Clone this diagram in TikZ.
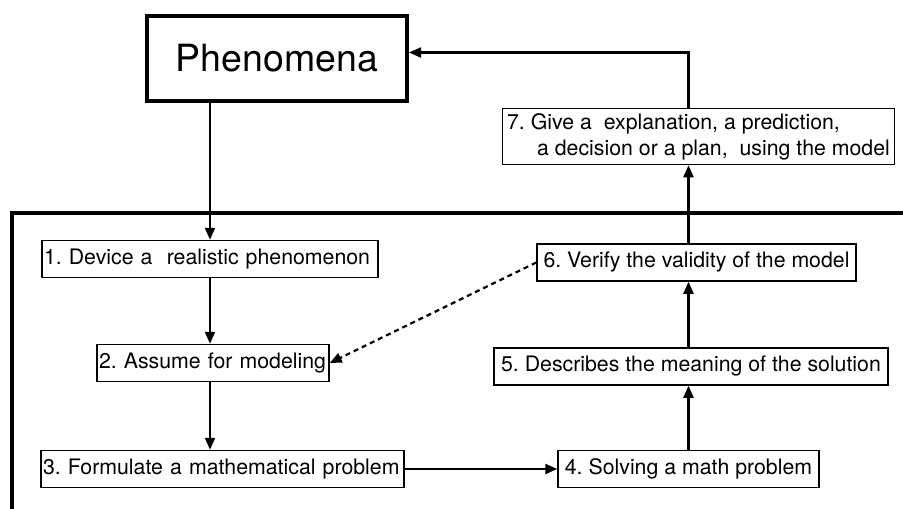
\documentclass[tikz,border=0pt]{standalone}
\usepackage{fontspec}
\setmainfont{TeX Gyre Heros}
\usepackage{tikz}
\usetikzlibrary{arrows.meta,calc}
\frenchspacing

\tikzset{
  stepbox/.style={draw, rectangle, line width=1.5pt, minimum height=37pt, inner sep=2pt, font=\fontsize{21.3}{26}\selectfont},
  leftbox/.style={stepbox, align=left, text width=#1},
  flow/.style={-{Triangle[length=12pt,width=10pt]}, line width=2.2pt},
}

\begin{document}
\begin{tikzpicture}[x=1pt,y=-1pt]
    \useasboundingbox (0,0) rectangle (903,509);
    \node[draw, rectangle, line width=4pt, minimum width=260pt, minimum height=85pt, font=\fontsize{37.5}{44}\selectfont] (phen) at (277,58.5) {Phenomena};
    
    \draw[line width=4pt] (12,515) -- (12,213) -- (910,213);
    
    \node[stepbox, minimum width=392pt, minimum height=56pt, align=left] (s7) at (698.5,136.5)
        {7. Give a~ explanation, a prediction,\\\hspace{30pt}a decision or a plan,~ using the model};
    \node[leftbox=332pt] (s1) at (210,259) {1. Device a~ realistic phenomenon};
    \node[leftbox=228pt] (s2) at (213,363) {2. Assume for modeling};
    \node[leftbox=359pt] (s3) at (222.5,469) {3. Formulate a mathematical problem};
    \node[stepbox, minimum width=261pt] (s4) at (688.5,469) {4. Solving a math problem};
    \node[stepbox, minimum width=394pt] (s5) at (691,366.5) {5. Describes the meaning of the solution};
    \node[stepbox, minimum width=319pt] (s6) at (696.5,262.5) {6. Verify the validity of the model};
    
    \draw[flow] (phen.south -| s1.north) -- (s1.north);
    \draw[flow] (s1.south) -- (s1.south |- s2.north);
    \draw[flow] (s2.south -| s1.south) -- (s1.south |- s3.north);
    \draw[flow] (s3.east) -- (s4.west);
    \draw[flow] (s4.north) -- (s4.north |- s5.south);
    \draw[flow] (s5.north -| s4.north) -- (s4.north |- s6.south);
    \draw[flow] (s6.north -| s4.north) -- (s4.north |- s7.south);
    \draw[flow] (s7.north -| s4.north) |- ($(phen.east)+(0,-6)$);
    \draw[flow, dash pattern=on 5pt off 4pt] (s6.west) -- (s2.east);
\end{tikzpicture}
\end{document}
